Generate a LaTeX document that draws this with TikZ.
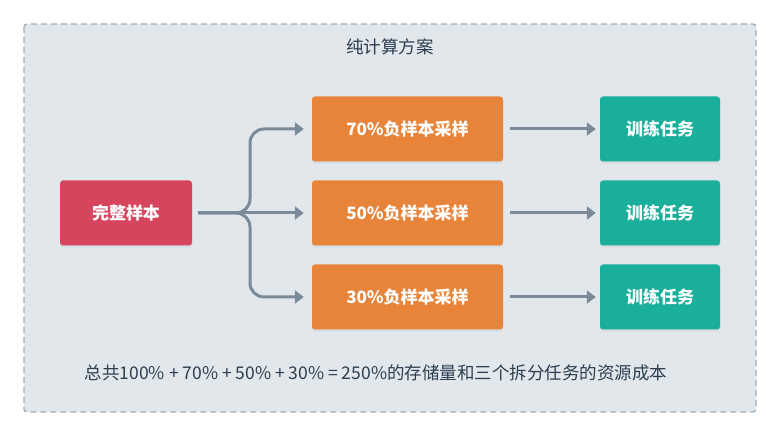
\documentclass[tikz,border=0pt]{standalone}
\usepackage{fontspec}
\newfontfamily\cjk{Noto Sans CJK SC}
\definecolor{bgpanel}{RGB}{226,231,236}
\definecolor{bgedge}{RGB}{160,174,187}
\definecolor{sampred}{RGB}{214,69,93}
\definecolor{samporange}{RGB}{232,132,58}
\definecolor{sampteal}{RGB}{26,175,155}
\definecolor{linkgray}{RGB}{123,138,153}
\definecolor{textdark}{RGB}{44,62,80}
\usetikzlibrary{arrows.meta,positioning,shadows}

\begin{document}
\begin{tikzpicture}[x=1pt,y=-1pt,
    box/.style={rounded corners=3pt,text=white,font=\cjk\bfseries\fontsize{17}{20}\selectfont,
                minimum height=65pt,inner sep=0pt,
                drop shadow={opacity=0.12,shadow xshift=0pt,shadow yshift=-2pt}},
    link/.style={draw=linkgray,line width=3pt,-{Triangle[length=9pt,width=13pt]}}]
  \useasboundingbox (0,0) rectangle (780,438);

  %% outer panel
  \draw[fill=bgpanel,draw=bgedge,line width=1.3pt,dash pattern=on 6pt off 4pt,rounded corners=3pt]
        (24,24) rectangle (756,412);
  \node[font=\cjk\fontsize{17.5}{20}\selectfont,text=textdark] (title) at (390,47) {纯计算方案};

  %% source sample
  \node[box,fill=sampred,minimum width=132pt] (full) at (126,213) {完整样本};

  %% negative sampling, three ratios
  \node[box,fill=samporange,minimum width=191pt] (neg70) at (407.5,129) {70\%负样本采样};
  \node[box,fill=samporange,minimum width=191pt] (neg50) at (407.5,213) {50\%负样本采样};
  \node[box,fill=samporange,minimum width=191pt] (neg30) at (407.5,297) {30\%负样本采样};

  %% training jobs
  \node[box,fill=sampteal,minimum width=120pt] (job70) at (660,129) {训练任务};
  \node[box,fill=sampteal,minimum width=120pt] (job50) at (660,213) {训练任务};
  \node[box,fill=sampteal,minimum width=120pt] (job30) at (660,297) {训练任务};

  %% branching links
  \coordinate (split) at ([xshift=6pt]full.east);
  \draw[link,rounded corners=14pt] (split) -- (250,213) -- (250,129) -- ([xshift=-8pt]neg70.west);
  \draw[link] (split) -- ([xshift=-8pt]neg50.west);
  \draw[link,rounded corners=14pt] (split) -- (250,213) -- (250,297) -- ([xshift=-8pt]neg30.west);

  \draw[link] ([xshift=7pt]neg70.east) -- ([xshift=-4pt]job70.west);
  \draw[link] ([xshift=7pt]neg50.east) -- ([xshift=-4pt]job50.west);
  \draw[link] ([xshift=7pt]neg30.east) -- ([xshift=-4pt]job30.west);

  %% summary
  \node[font=\cjk\fontsize{17.5}{20}\selectfont,text=textdark] (total) at (376,373)
        {总共100\% + 70\% + 50\% + 30\% = 250\%的存储量和三个拆分任务的资源成本};
\end{tikzpicture}
\end{document}
